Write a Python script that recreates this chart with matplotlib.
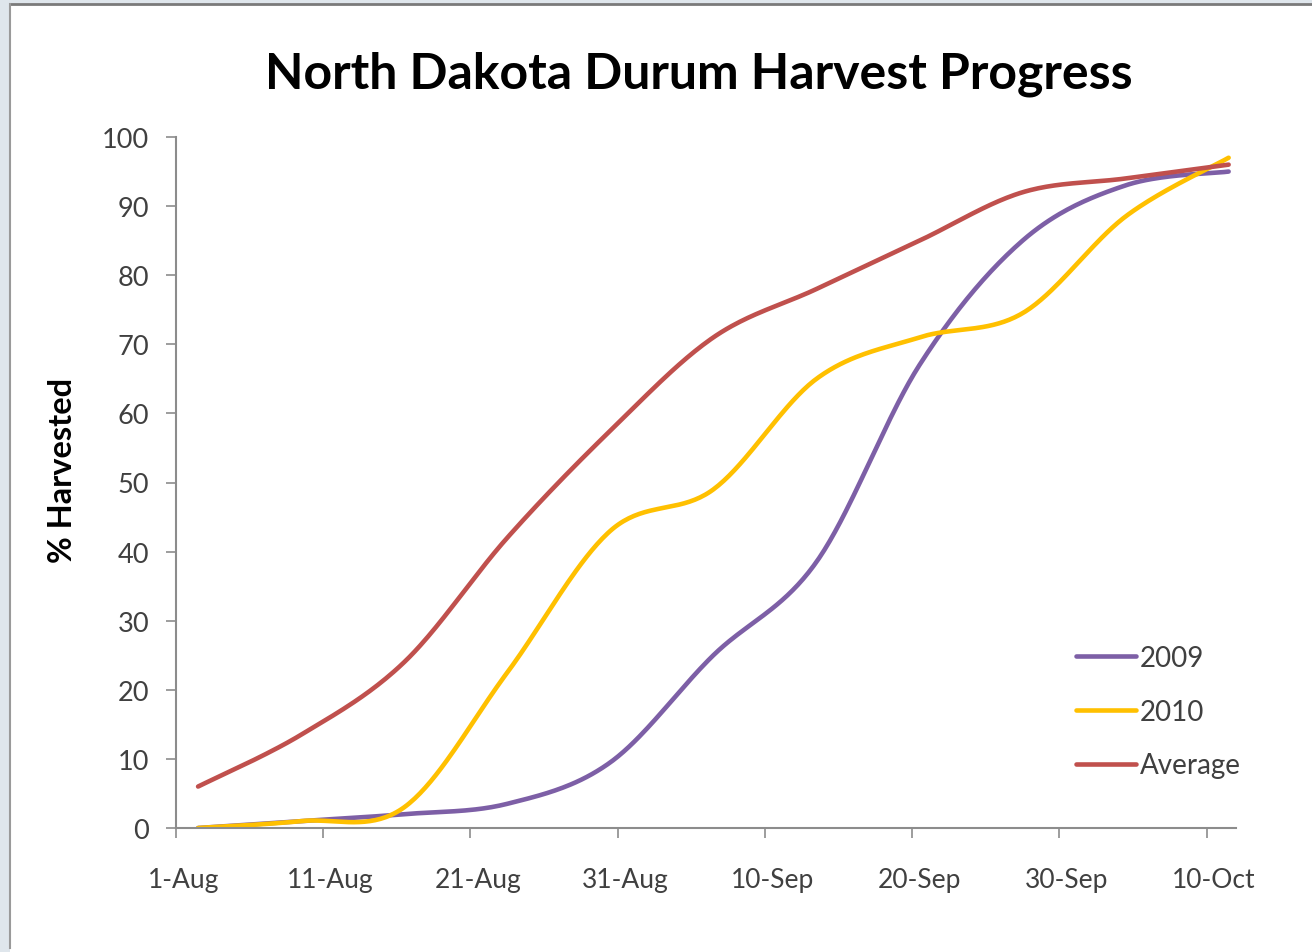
import numpy as np
import pandas as pd
import matplotlib
matplotlib.use("Agg")
import matplotlib.pyplot as plt
from matplotlib.patches import Rectangle
from matplotlib.lines import Line2D

# ---- data ----
dates = ["2010-08-02", "2010-08-09", "2010-08-16", "2010-08-23", "2010-08-30",
         "2010-09-06", "2010-09-13", "2010-09-20", "2010-09-27", "2010-10-04",
         "2010-10-11"]
y2009 = [0, 1, 2, 3.5, 9.5, 25, 38.5, 67, 85, 93, 95]
y2010 = [0, 1, 3, 22.5, 43, 49, 65, 71, 74.5, 88.5, 97]
yavg = [6, 13.5, 24, 42, 57.5, 71, 78, 85, 92, 94, 96]
tick_labels = ["1-Aug", "11-Aug", "21-Aug", "31-Aug", "10-Sep", "20-Sep", "30-Sep", "10-Oct"]
series_names = ["2009", "2010", "Average"]
colors = ["#7D5FA6", "#FFC000", "#C0504D"]

origin = pd.Timestamp("2010-08-01")
xdays = np.array([(pd.Timestamp(d) - origin).days for d in dates], dtype=float)


def smooth(x, y, n=40):
    x = np.asarray(x, float)
    y = np.asarray(y, float)
    P = np.column_stack([x, y])
    P_ext = np.vstack([P[0], P, P[-1]])
    out = []
    for i in range(len(P) - 1):
        p0, p1, p2, p3 = P_ext[i], P_ext[i + 1], P_ext[i + 2], P_ext[i + 3]
        c1 = p1 + (p2 - p0) / 6.0
        c2 = p2 - (p3 - p1) / 6.0
        t = np.linspace(0, 1, n)[:, None]
        seg = ((1 - t) ** 3) * p1 + 3 * ((1 - t) ** 2) * t * c1 + 3 * (1 - t) * t ** 2 * c2 + t ** 3 * p2
        out.append(seg if i == 0 else seg[1:])
    s = np.vstack(out)
    return s[:, 0], s[:, 1]


W, H = 1312, 953
fig = plt.figure(figsize=(W / 100, H / 100), dpi=100)
fig.patch.set_facecolor("#dfe6ec")
# white chart panel with gray edge
fig.add_artist(Rectangle((10 / W, 0), 1, 1 - 5 / H, transform=fig.transFigure,
                         facecolor="white", edgecolor="none", zorder=0))
fig.add_artist(Line2D([10 / W, 1], [1 - 5 / H, 1 - 5 / H], transform=fig.transFigure,
                      color="#7a7a7a", lw=2, zorder=1))
fig.add_artist(Line2D([10 / W, 10 / W], [4 / H, 1 - 5 / H], transform=fig.transFigure,
                      color="#9a9a9a", lw=1.5, zorder=1))

FONT = "Lato"
ax = fig.add_axes([176 / W, 1 - 829 / H, (1236 - 176) / W, (829 - 138) / H])
ax.set_facecolor("none")

for ys, c, name in zip([y2009, y2010, yavg], colors, series_names):
    sx, sy = smooth(xdays, ys)
    ax.plot(sx, sy, color=c, lw=3.3, label=name, solid_capstyle="round")

ax.set_xlim(-0.5, 71.5)
ax.set_ylim(0, 100)

for s in ["top", "right"]:
    ax.spines[s].set_visible(False)
for s in ["left", "bottom"]:
    ax.spines[s].set_color("#8c8c8c")
    ax.spines[s].set_linewidth(1.5)

ax.set_yticks(np.arange(0, 101, 10))
ax.tick_params(axis="y", length=7, width=1.2, color="#8c8c8c", pad=12.5,
               labelsize=19.5, labelcolor="#404040")
ax.set_xticks(np.arange(0, 71, 10))
ax.set_xticklabels(tick_labels)
ax.set_xticks(np.arange(-0.5, 70, 10), minor=True)
ax.tick_params(axis="x", which="major", length=0, pad=28, labelsize=19, labelcolor="#404040")
ax.tick_params(axis="x", which="minor", length=7, width=1.2, color="#8c8c8c")
for lab in ax.get_xticklabels() + ax.get_yticklabels():
    lab.set_fontfamily(FONT)

fig.text(699 / W, 1 - 74 / H, "North Dakota Durum Harvest Progress", ha="center", va="center",
         fontsize=36, fontweight="bold", family=FONT, color="black")
fig.text(62 / W, 1 - 470 / H, "% Harvested", ha="center", va="center", rotation=90,
         fontsize=23.5, fontweight="bold", family=FONT, color="black")

leg = ax.legend(loc="upper left", bbox_to_anchor=(1062 / W, 1 - 632 / H), bbox_transform=fig.transFigure,
                frameon=False, prop={"family": FONT, "size": 20}, handlelength=2.15,
                handletextpad=0.15, labelspacing=1.0, borderpad=0)
for t in leg.get_texts():
    t.set_color("#404040")

fig.savefig("out.png", dpi=100)
